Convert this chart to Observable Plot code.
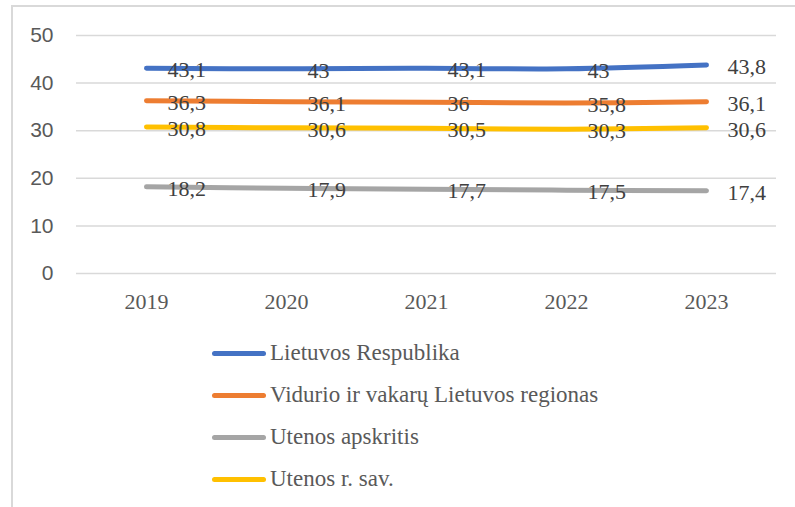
<!DOCTYPE html>
<html>
<head>
<meta charset="utf-8">
<script src="https://cdn.jsdelivr.net/npm/d3@7"></script>
<script src="https://cdn.jsdelivr.net/npm/@observablehq/plot@0.6"></script>
<style>
  html, body { margin: 0; padding: 0; background: #fff; width: 795px; height: 507px; overflow: hidden; }
  #frame { position: absolute; left: 11px; top: 5px; width: 800px; height: 520px; border: 2px solid #d9d9d9; box-sizing: border-box; }
  #chart { position: absolute; left: 0; top: 0; }
  #legend { position: absolute; left: 212px; top: 0; font-family: "Liberation Serif", "Noto Serif", "Times New Roman", serif; font-size: 23px; color: #595959; }
  .item { position: absolute; left: 0; white-space: nowrap; display: flex; align-items: center; }
  .swatch { width: 54px; height: 5px; border-radius: 3px; margin-right: 4px; }
</style>
</head>
<body>
<div id="frame"></div>
<div id="chart"></div>
<div id="legend"></div>
<script>
const years = ["2019", "2020", "2021", "2022", "2023"];
const seriesNames = ["Lietuvos Respublika", "Vidurio ir vakarų Lietuvos regionas", "Utenos apskritis", "Utenos r. sav."];
const lietuvosRespublika = [43.1, 43, 43.1, 43, 43.8];
const viduriovakaru = [36.3, 36.1, 36, 35.8, 36.1];
const utenosApskritis = [18.2, 17.9, 17.7, 17.5, 17.4];
const utenosRSav = [30.8, 30.6, 30.5, 30.3, 30.6];
const colors = ["#4472C4", "#ED7D31", "#A5A5A5", "#FFC000"];
const yTicks = [0, 10, 20, 30, 40, 50];

const serif = "'Liberation Serif', 'Noto Serif', 'Times New Roman', serif";
const seriesValues = [lietuvosRespublika, viduriovakaru, utenosApskritis, utenosRSav];
const data = seriesNames.flatMap((s, i) => years.map((y, j) => ({series: s, year: y, value: seriesValues[i][j]})));
const fmt = v => String(v).replace(".", ",");

const plot = Plot.plot({
  width: 795,
  height: 320,
  marginLeft: 76,
  marginRight: 19,
  marginTop: 35,
  marginBottom: 47,
  x: {type: "point", domain: years, padding: 0.5},
  y: {domain: [0, 50]},
  color: {domain: seriesNames, range: colors},
  marks: [
    Plot.gridY(yTicks, {stroke: "#d9d9d9", strokeOpacity: 1, strokeWidth: 1.5}),
    Plot.axisY(yTicks, {tickSize: 0, tickPadding: 23, fontSize: 21, fontFamily: "'Liberation Sans', Arial, sans-serif", fill: "#595959", label: null}),
    Plot.axisX({tickSize: 0, tickPadding: 20, fontSize: 22, fontFamily: serif, fill: "#595959", label: null}),
    Plot.line(data, {x: "year", y: "value", z: "series", stroke: "series", strokeWidth: 5, curve: "catmull-rom", strokeLinecap: "round"}),
    Plot.text(data, {x: "year", y: "value", text: d => fmt(d.value), dx: 21, dy: 2, textAnchor: "start", fontSize: 22, fontFamily: serif, fill: "#404040"})
  ]
});
document.getElementById("chart").appendChild(plot);

const legend = document.getElementById("legend");
const rowY = [353, 395, 437, 479];
seriesNames.forEach((s, i) => {
  const item = document.createElement("div");
  item.className = "item";
  item.style.top = (rowY[i] - 14) + "px";
  item.style.height = "28px";
  const sw = document.createElement("span");
  sw.className = "swatch";
  sw.style.background = colors[i];
  const t = document.createElement("span");
  t.textContent = s;
  item.appendChild(sw);
  item.appendChild(t);
  legend.appendChild(item);
});
</script>
</body>
</html>
